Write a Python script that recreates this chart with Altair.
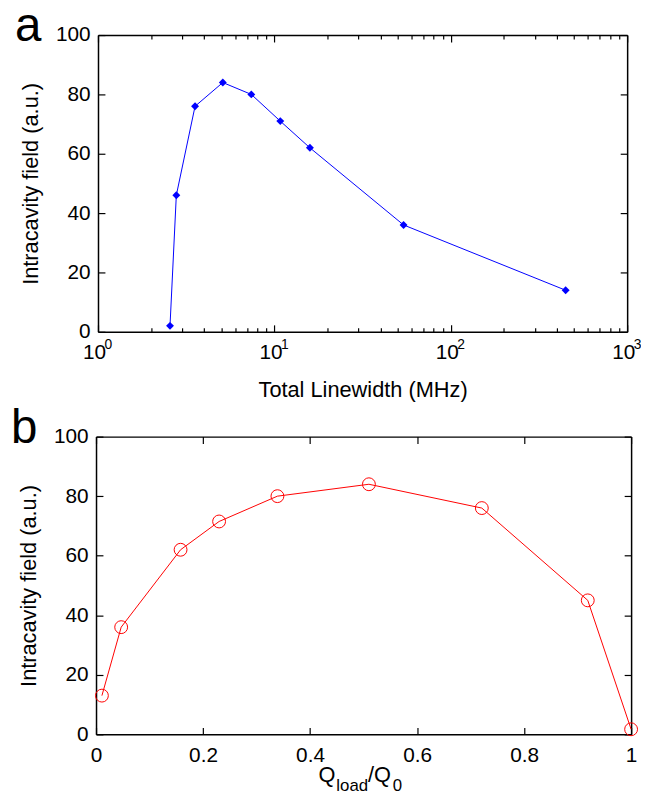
import altair as alt
import pandas as pd

FONT = "Liberation Sans"

# ---- panel a data ----
linewidth_a = [2.56, 2.78, 3.55, 5.1, 7.4, 10.8, 15.9, 54.0, 448.0]
field_a = [2, 46, 76, 84, 80, 71, 62, 36, 14]

# ---- panel b data ----
qratio_b = [0.011, 0.047, 0.158, 0.23, 0.339, 0.51, 0.721, 0.919, 1.0]
field_b = [13, 36, 62, 71.5, 80, 84, 76, 45, 1.7]

# ---- ticks ----
major_log = [1, 10, 100, 1000]
minor_log = [2, 3, 4, 5, 6, 7, 8, 9, 20, 30, 40, 50, 60, 70, 80, 90,
             200, 300, 400, 500, 600, 700, 800, 900]
y_ticks = [0, 20, 40, 60, 80, 100]
x_ticks_b = [0, 0.2, 0.4, 0.6, 0.8, 1]

df_a = pd.DataFrame({"lw": linewidth_a, "f": field_a})
df_b = pd.DataFrame({"q": qratio_b, "f": field_b})

# ---- layout (one view holding both panels) ----
VW, VH = 542, 707          # whole view
A_L, A_R, A_T, A_B = 3, 538, 0, 300      # panel a plot box inside the view
B_L, B_R, B_T, B_B = 1, 542, 406, 707    # panel b plot box inside the view
TK, MTK = 7, 4             # major / minor inward tick length


def ax(**kw):
    base = dict(grid=False, domain=False, labelFont=FONT, labelFontSize=21,
                labelColor="black", tickColor="black", tickWidth=1.2,
                titleFont=FONT, titleFontSize=22, titleFontWeight="normal",
                titleColor="black", labelFlush=False, labelOverlap=False,
                labelBound=False, domainColor="black", domainWidth=1.5)
    base.update(kw)
    return alt.Axis(**base)


def dom(orient, off):
    return ax(orient=orient, domain=True, ticks=False, labels=False,
              title=None, offset=off)


def tk(orient, off, values, size=TK):
    return ax(orient=orient, values=values, tickSize=size, offset=off - size,
              labels=False, title=None)


# offsets of each panel edge from the view edge (negative = inward)
a_bot, a_top, a_left, a_right = -(VH - A_B), -A_T, -A_L, -(VW - A_R)
b_bot, b_top, b_left, b_right = -(VH - B_B), -B_T, -B_L, -(VW - B_R)

xs_a = alt.Scale(type="log", domain=[1, 1000], nice=False, range=[A_L, A_R])
ys_a = alt.Scale(domain=[0, 100], nice=False, zero=False, range=[A_B, A_T])
xs_b = alt.Scale(domain=[0, 1], nice=False, zero=False, range=[B_L, B_R])
ys_b = alt.Scale(domain=[0, 100], nice=False, zero=False, range=[B_B, B_T])

# ---------------- panel a ----------------
XA = lambda axis: alt.X("lw:Q", scale=xs_a, axis=axis)
YA = lambda axis: alt.Y("f:Q", scale=ys_a, axis=axis)

a_line = alt.Chart(df_a).mark_line(color="#0000ff", strokeWidth=1).encode(
    x=XA(ax(orient="bottom", values=major_log, labelExpr="'10'",
            tickSize=TK, offset=a_bot - TK, labelPadding=10, labelOffset=-4,
            title="Total Linewidth (MHz)", titlePadding=17)),
    y=YA(ax(orient="left", values=y_ticks, tickSize=TK, offset=a_left - TK,
            labelPadding=8, title="Intracavity field (a.u.)",
            titlePadding=13)),
)
a_pts = alt.Chart(df_a).mark_point(shape="diamond", filled=True, size=64,
                                   color="#0000ff", opacity=1).encode(
    x=XA(ax(orient="bottom", values=major_log,
            labelExpr="format(round(log(datum.value)/LN10), 'd')",
            labelFontSize=14, ticks=False, labelPadding=6, offset=a_bot,
            labelOffset=10, title=None)),
    y=YA(tk("right", a_right, y_ticks)),
)
inv_a = alt.Chart(df_a).mark_point(opacity=0)
a_l3 = inv_a.encode(x=XA(tk("top", a_top, major_log)), y=YA(dom("left", a_left)))
a_l4 = inv_a.encode(x=XA(tk("bottom", a_bot, minor_log, MTK)),
                    y=YA(dom("right", a_right)))
a_l5 = inv_a.encode(x=XA(tk("top", a_top, minor_log, MTK)), y=YA(None))
a_l6 = inv_a.encode(x=XA(dom("bottom", a_bot)), y=YA(None))
a_l7 = inv_a.encode(x=XA(dom("top", a_top)), y=YA(None))

panel_a = alt.layer(a_line, a_pts, a_l3, a_l4, a_l5, a_l6, a_l7).resolve_axis(
    x="independent", y="independent")

# ---------------- panel b ----------------
XB = lambda axis: alt.X("q:Q", scale=xs_b, axis=axis)
YB = lambda axis: alt.Y("f:Q", scale=ys_b, axis=axis)

b_line = alt.Chart(df_b).mark_line(color="#ff0000", strokeWidth=1).encode(
    x=XB(ax(orient="bottom", values=x_ticks_b, format="~g", tickSize=TK,
            offset=b_bot - TK, labelPadding=10, title=None)),
    y=YB(ax(orient="left", values=y_ticks, tickSize=TK, offset=b_left - TK,
            labelPadding=8, title="Intracavity field (a.u.)",
            titlePadding=13)),
)
b_pts = alt.Chart(df_b).mark_point(shape="circle", filled=False, size=169,
                                   color="#ff0000", strokeWidth=1,
                                   opacity=1).encode(
    x=XB(tk("top", b_top, x_ticks_b)),
    y=YB(tk("right", b_right, y_ticks)),
)
inv_b = alt.Chart(df_b).mark_point(opacity=0)
b_l3 = inv_b.encode(x=XB(dom("bottom", b_bot)), y=YB(dom("left", b_left)))
b_l4 = inv_b.encode(x=XB(dom("top", b_top)), y=YB(dom("right", b_right)))

panel_b = alt.layer(b_line, b_pts, b_l3, b_l4).resolve_axis(
    x="independent", y="independent")

# ---------------- texts: panel letters and the subscripted x title ----------------
text_parts = [("a", 48, -81, 5.5), ("b", 48, -85, 412),
              ("Q", 22, 226, 755), ("load", 17, 244, 764),
              ("/Q", 22, 276, 755), ("0", 17, 301, 764)]
text_layers = [
    alt.Chart(pd.DataFrame({"t": [txt]})).mark_text(
        font=FONT, fontSize=fs, align="left", baseline="alphabetic",
        color="black").encode(text="t:N", x=alt.value(xx), y=alt.value(yy))
    for txt, fs, xx, yy in text_parts
]

chart = alt.layer(panel_a, panel_b, *text_layers).resolve_scale(
    x="independent", y="independent").resolve_axis(
    x="independent", y="independent").properties(
    width=VW, height=VH,
    autosize=alt.AutoSizeParams(type="none"),
    padding={"left": 88, "top": 23, "right": 10, "bottom": 59},
    background="white",
).configure_view(strokeWidth=0)

chart.save("out.html", embed_options={"renderer": "svg", "actions": False})
